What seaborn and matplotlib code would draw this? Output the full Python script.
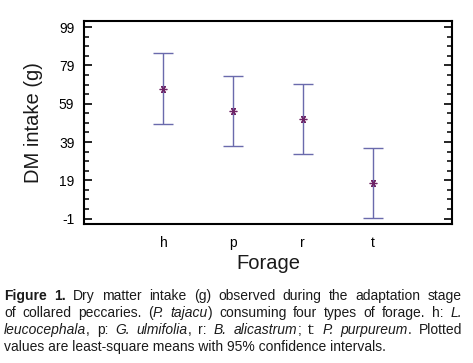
"""Dry matter intake by forage type: least-square means with 95% CI.
Saves out.png (473x363).
"""
import numpy as np
import pandas as pd
import matplotlib
matplotlib.use('Agg')
import matplotlib.pyplot as plt
from matplotlib.ticker import MultipleLocator
import seaborn as sns

# values
forage = ['h', 'p', 'r', 't']
ls_mean = [66.9, 55.3, 51.2, 17.5]
ci_low = [48.5, 37.0, 32.9, -0.8]
ci_high = [85.3, 73.6, 69.5, 35.8]
y_ticks = [-1, 19, 39, 59, 79, 99]

# caption, one list of (text, style) runs per printed line
caption = [
    [('Figure 1.', 'b'), (' Dry matter intake (g) observed during the adaptation stage', 'n')],
    [('of collared peccaries. (', 'n'), ('P. tajacu', 'i'),
     (') consuming four types of forage. h: ', 'n'), ('L.', 'i')],
    [('leucocephala', 'i'), (', p: ', 'n'), ('G. ulmifolia', 'i'), (', r: ', 'n'),
     ('B. alicastrum', 'i'), ('; t: ', 'n'), ('P. purpureum', 'i'), ('. Plotted', 'n')],
]
caption_last = 'values are least-square means with 95% confidence intervals.'

BAR = '#6a6aac'
MARK = '#6e2466'
TXT = '#1a1a1a'


def split_words(runs):
    words = [[]]
    for txt, st in runs:
        for k, part in enumerate(txt.split(' ')):
            if k > 0:
                words.append([])
            if part:
                words[-1].append((part, st))
    return [w for w in words if w]


def draw_caption(fig, lines, x0, x1, baselines, size):
    # justified text like the journal layout
    renderer = fig.canvas.get_renderer()
    W, H = fig.bbox.width, fig.bbox.height
    styles = {'b': dict(weight='bold'), 'i': dict(style='italic'), 'n': {}}
    for runs, yb in zip(lines, baselines):
        words = split_words(runs)
        placed, widths = [], []
        for w in words:
            segs, wsum = [], 0
            for txt, st in w:
                t = fig.text(0, 1 - yb / H, txt, fontsize=size, va='baseline',
                             color=TXT, **styles[st])
                ww = t.get_window_extent(renderer).width
                segs.append((t, ww))
                wsum += ww
            placed.append(segs)
            widths.append(wsum)
        gap = (x1 - x0 - sum(widths)) / (len(words) - 1)
        x = x0
        for segs, wsum in zip(placed, widths):
            xx = x
            for t, ww in segs:
                t.set_x(xx / W)
                xx += ww
            x += wsum + gap


sns.set_style('white')
plt.rcParams['font.family'] = ['Liberation Sans', 'DejaVu Sans']
plt.rcParams['axes.unicode_minus'] = False

df = pd.DataFrame({'Forage': forage, 'mean': ls_mean, 'lo': ci_low, 'hi': ci_high})

fig = plt.figure(figsize=(4.73, 3.63), dpi=100)
ax = fig.add_axes([0.1776, 0.383, 0.778, 0.559])

sns.pointplot(data=df, x='Forage', y='mean', errorbar=None, color=MARK,
              linestyle='none', marker=(6, 2, 90), markersize=5.5,
              markeredgewidth=0.9, ax=ax, zorder=3)
pos = np.arange(len(forage))
ax.errorbar(pos, df['mean'], yerr=[df['mean'] - df['lo'], df['hi'] - df['mean']],
            fmt='none', ecolor=BAR, elinewidth=1.0, capsize=7, capthick=1.0, zorder=1)

ax.set_xlim(-1.14, 4.14)
ax.set_ylim(-3.8, 102.2)
ax.set_yticks(y_ticks)
ax.yaxis.set_minor_locator(MultipleLocator(5, offset=-1))
ax.tick_params(axis='y', which='both', direction='in', left=True, right=True,
               labelright=False, colors='black', labelsize=10, pad=7)
ax.tick_params(axis='y', which='major', length=6, width=1.2)
ax.tick_params(axis='y', which='minor', length=3.5, width=1.1)
ax.tick_params(axis='x', which='both', bottom=False, labelsize=10, pad=5,
               colors='black')
for s in ax.spines.values():
    s.set_visible(True)
    s.set_linewidth(1.5)
    s.set_color('black')

ax.set_xlabel('Forage', fontsize=14.5, color=TXT)
ax.set_ylabel('DM intake (g)', fontsize=14.5, color=TXT)
ax.xaxis.set_label_coords(0.5, -0.148)
ax.yaxis.set_label_coords(-0.112, 0.5)

draw_caption(fig, caption, 4, 462, [300, 317, 334], 10)
fig.text(4 / 473, 1 - 350.5 / 363, caption_last, fontsize=10, va='baseline', color=TXT)

fig.savefig('out.png', dpi=100)
